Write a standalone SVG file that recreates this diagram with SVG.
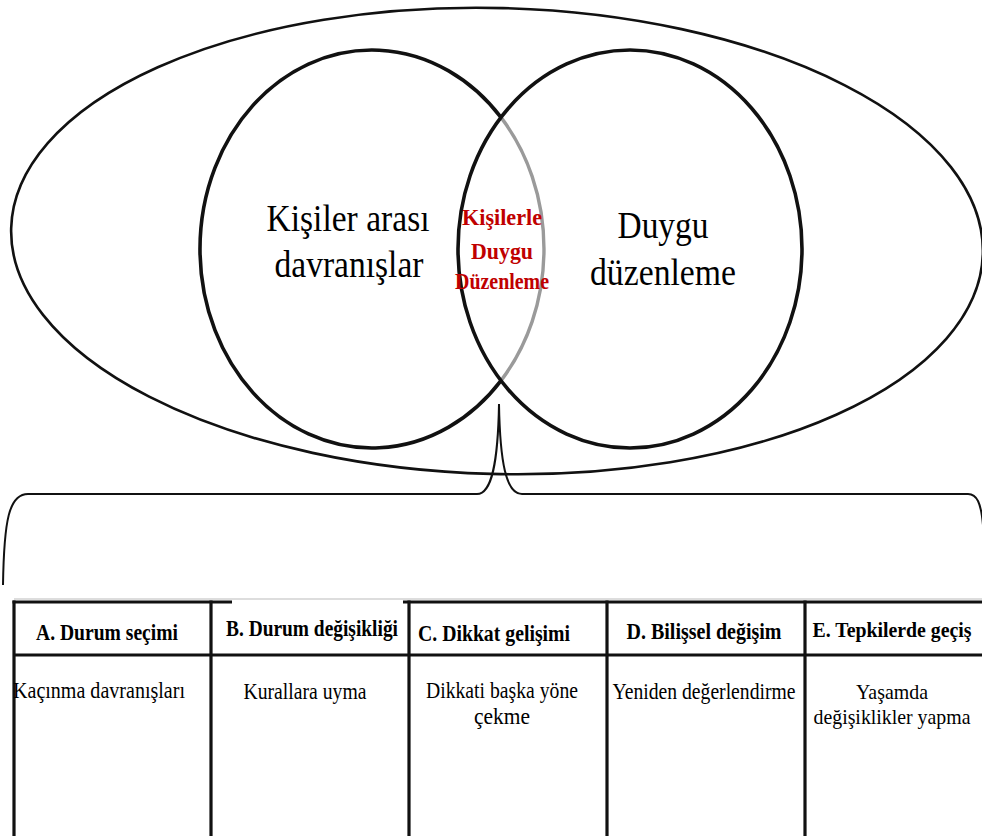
<svg xmlns="http://www.w3.org/2000/svg" width="982" height="836" viewBox="0 0 982 836">
<style>
.bg{fill:#ffffff}
.ring{fill:none;stroke:#111;stroke-width:2.6}
.circ{fill:none;stroke:#111;stroke-width:3.6}
.gray{fill:none;stroke:#9a9a9a;stroke-width:3.4}
text{font-family:"Liberation Serif","DejaVu Serif",serif}
.big{font-size:37px;fill:#000;text-anchor:middle}
.red{font-size:24px;font-weight:bold;fill:#c00000;text-anchor:middle}
.hd{font-size:23px;font-weight:bold;fill:#000;text-anchor:middle}
.bd{font-size:22.5px;fill:#000;text-anchor:middle}
.sm{font-size:21px}
.conn{fill:none;stroke:#111;stroke-width:2}
.grid{stroke:#111;stroke-width:3.2;fill:none}
.thin{stroke:#bbb;stroke-width:1;fill:none}
</style>
<rect class="bg" x="0" y="0" width="982" height="836"/>

<g id="outer-ellipse">
<ellipse class="ring" cx="497" cy="241" rx="486" ry="233" transform="rotate(1.5 497 241)"/>
</g>

<g id="circle-interpersonal">
<path class="circ" d="M501 117.4 A172 199 0 1 0 501 380.6"/>
<path class="gray" d="M501 117.4 A172 199 0 0 1 501 380.6"/>
<text class="big" x="348" y="231" textLength="163" lengthAdjust="spacingAndGlyphs">Kişiler arası</text>
<text class="big" x="349" y="277" textLength="149" lengthAdjust="spacingAndGlyphs">davranışlar</text>
</g>

<g id="circle-emotion">
<ellipse class="circ" cx="630" cy="249" rx="172" ry="199"/>
<text class="big" x="663" y="238" textLength="91" lengthAdjust="spacingAndGlyphs">Duygu</text>
<text class="big" x="663" y="285" textLength="146" lengthAdjust="spacingAndGlyphs">düzenleme</text>
</g>

<g id="intersection">
<text class="red" x="502" y="225" textLength="80" lengthAdjust="spacingAndGlyphs">Kişilerle</text>
<text class="red" x="502" y="259" textLength="62" lengthAdjust="spacingAndGlyphs">Duygu</text>
<text class="red" x="502" y="289" textLength="94" lengthAdjust="spacingAndGlyphs">Düzenleme</text>
</g>

<g id="connectors">
<path class="conn" d="M3 585 C4 520 9 494 28 494 L477 494 C492 494 498 462 499 404 C500 462 506 494 522 494 L968 494 C977 494 981 503 983 525"/>
</g>

<g id="table">
<line class="thin" x1="14" y1="599" x2="982" y2="599"/>
<line class="grid" x1="12.5" y1="602" x2="232" y2="602"/>
<line class="grid" x1="403" y1="602" x2="982" y2="602"/>
<line class="grid" x1="14" y1="600.5" x2="14" y2="836"/>
<line class="grid" x1="14" y1="655" x2="982" y2="655"/>
<line class="grid" x1="211" y1="600.5" x2="211" y2="836"/>
<line class="grid" x1="409" y1="600.5" x2="409" y2="836"/>
<line class="grid" x1="607" y1="600.5" x2="607" y2="836"/>
<line class="grid" x1="805" y1="600.5" x2="805" y2="836"/>
</g>

<g id="cell-a">
<text class="hd" x="107" y="640" textLength="142" lengthAdjust="spacingAndGlyphs">A. Durum seçimi</text>
<text class="bd" x="99" y="698" textLength="172" lengthAdjust="spacingAndGlyphs">Kaçınma davranışları</text>
</g>
<g id="cell-b">
<text class="hd" x="312" y="636" textLength="172" lengthAdjust="spacingAndGlyphs">B. Durum değişikliği</text>
<text class="bd" x="305" y="699" textLength="123" lengthAdjust="spacingAndGlyphs">Kurallara uyma</text>
</g>
<g id="cell-c">
<text class="hd" x="494" y="641" textLength="152" lengthAdjust="spacingAndGlyphs">C. Dikkat gelişimi</text>
<text class="bd" x="502" y="698" textLength="152" lengthAdjust="spacingAndGlyphs">Dikkati başka yöne</text>
<text class="bd" x="502" y="724" textLength="56" lengthAdjust="spacingAndGlyphs">çekme</text>
</g>
<g id="cell-d">
<text class="hd" x="704" y="639" textLength="155" lengthAdjust="spacingAndGlyphs">D. Bilişsel değişim</text>
<text class="bd" x="704" y="699" textLength="183" lengthAdjust="spacingAndGlyphs">Yeniden değerlendirme</text>
</g>
<g id="cell-e">
<text class="hd sm" x="892" y="637" textLength="159" lengthAdjust="spacingAndGlyphs">E. Tepkilerde geçiş</text>
<text class="bd sm" x="892" y="699" textLength="72" lengthAdjust="spacingAndGlyphs">Yaşamda</text>
<text class="bd sm" x="892" y="724" textLength="157" lengthAdjust="spacingAndGlyphs">değişiklikler yapma</text>
</g>
</svg>
